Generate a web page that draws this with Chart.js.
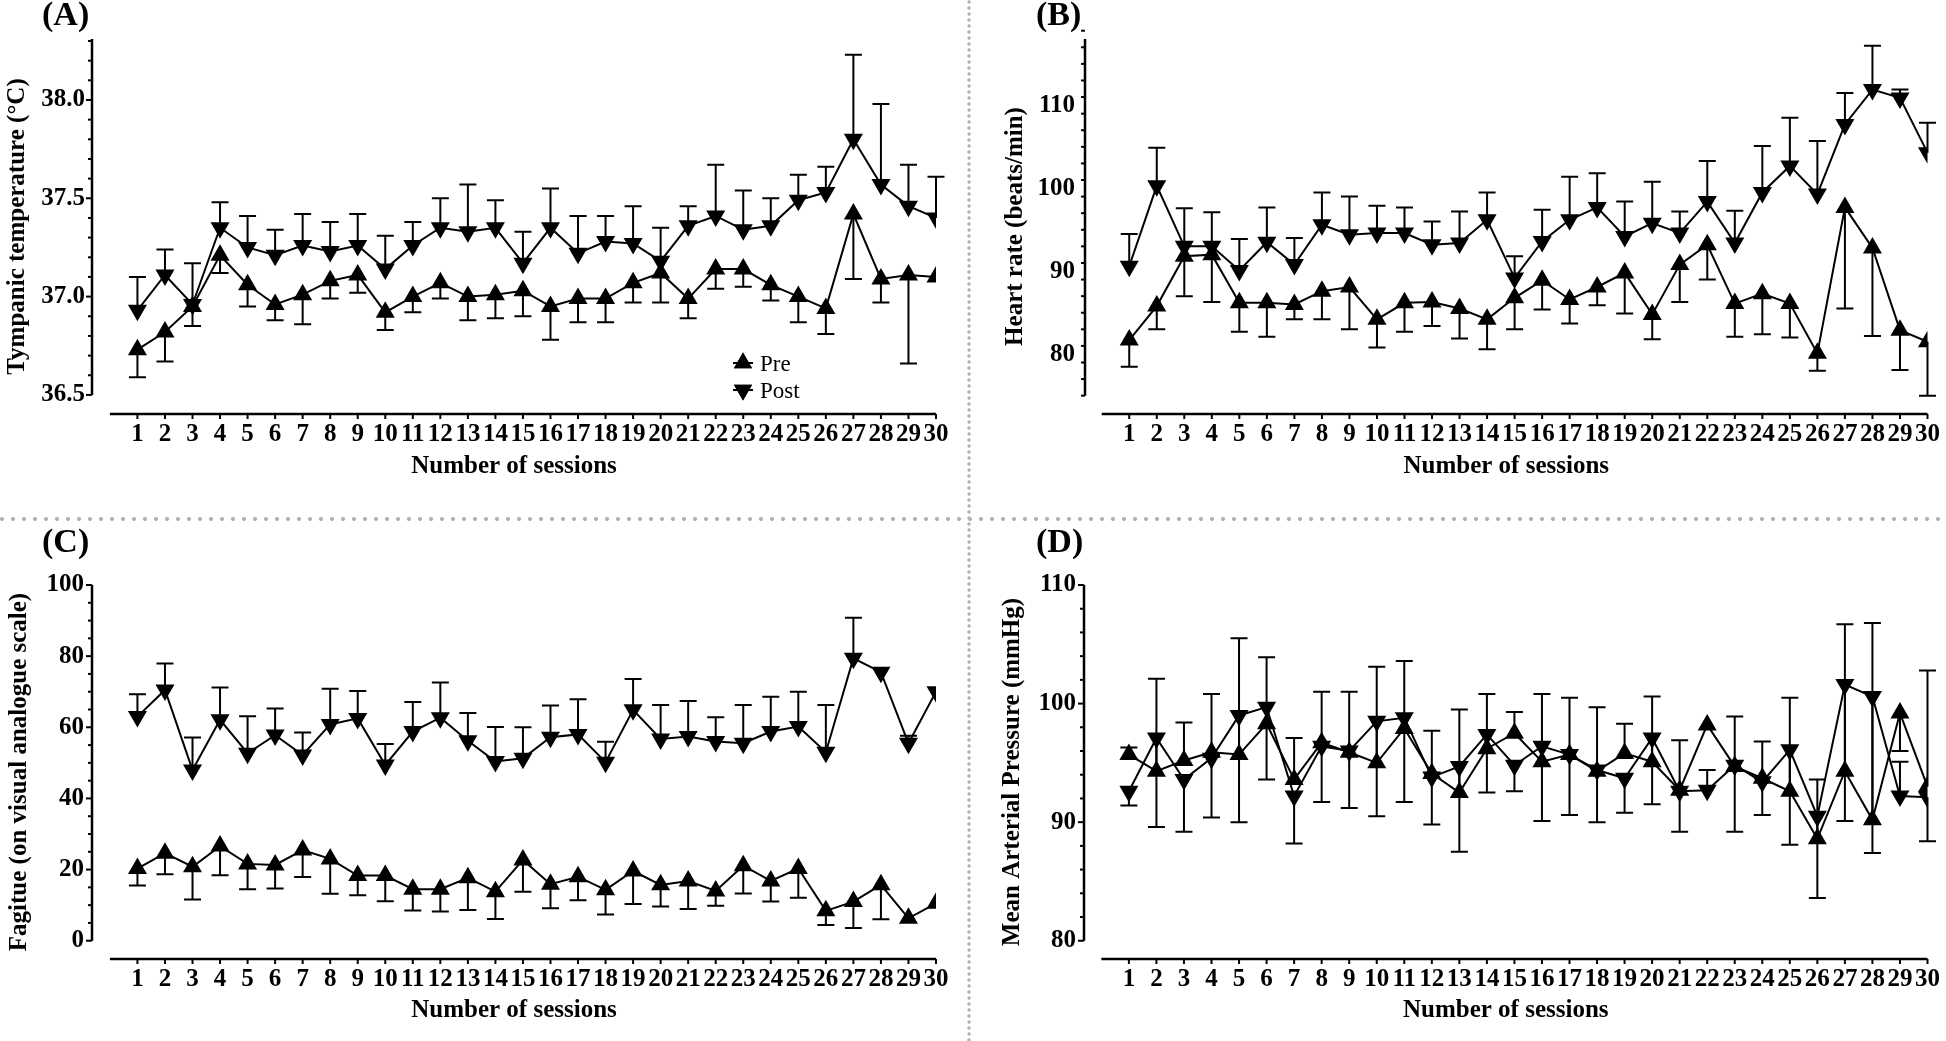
<!DOCTYPE html>
<html>
<head>
<meta charset="utf-8">
<script src="https://cdn.jsdelivr.net/npm/chart.js@4.4.1/dist/chart.umd.min.js"></script>
<style>
  body { margin: 0; background: #fff; }
  #page { position: relative; width: 1946px; height: 1041px; overflow: hidden; background: #fff; }
  canvas { position: absolute; }
  .tag { position: absolute; font: bold 34px 'Liberation Serif', 'Times New Roman', serif; line-height: 1; color: #000; }
  .hsep { position: absolute; left: 0; top: 517px; width: 1946px; height: 4px;
    background: radial-gradient(circle at 2px 2px, #b3b3b3 1.8px, transparent 2.3px) 0 0 / 11px 4px repeat-x; }
  .vsep { position: absolute; left: 967px; top: 0; width: 4px; height: 1041px;
    background: radial-gradient(circle at 2px 2px, #b3b3b3 1.4px, transparent 1.9px) 0 0 / 4px 6px repeat-y; }
</style>
</head>
<body>
<div id="page">
  <canvas id="cA" width="968" height="518" style="left:0;top:0"></canvas>
  <canvas id="cB" width="974" height="518" style="left:972px;top:0"></canvas>
  <canvas id="cC" width="968" height="519" style="left:0;top:522px"></canvas>
  <canvas id="cD" width="974" height="519" style="left:972px;top:522px"></canvas>
  <div class="hsep"></div>
  <div class="vsep"></div>
  <div class="tag" style="left:42px;top:-3px">(A)</div>
  <div class="tag" style="left:1036px;top:-3px">(B)</div>
  <div class="tag" style="left:42px;top:524px">(C)</div>
  <div class="tag" style="left:1036px;top:524px">(D)</div>
</div>
<script>
var sessions = [1, 2, 3, 4, 5, 6, 7, 8, 9, 10, 11, 12, 13, 14, 15,
  16, 17, 18, 19, 20, 21, 22, 23, 24, 25, 26, 27, 28, 29, 30];

// (A) tympanic temperature, mean and SD
var tempPre = [36.73, 36.82, 36.95, 37.21, 37.06, 36.96, 37.01, 37.08, 37.11, 36.92,
  37.00, 37.07, 37.00, 37.01, 37.03, 36.95, 36.99, 36.99, 37.07, 37.12,
  36.99, 37.14, 37.14, 37.06, 37.00, 36.94, 37.42, 37.09, 37.11, 37.10];
var tempPreSD = [0.14, 0.15, 0.10, 0.09, 0.11, 0.08, 0.15, 0.09, 0.09, 0.09,
  0.08, 0.08, 0.12, 0.12, 0.13, 0.17, 0.12, 0.12, 0.10, 0.15,
  0.10, 0.10, 0.09, 0.08, 0.13, 0.13, 0.33, 0.12, 0.45, 0.00];
var tempPost = [36.93, 37.11, 36.96, 37.35, 37.25, 37.21, 37.26, 37.23, 37.26, 37.14,
  37.26, 37.35, 37.33, 37.35, 37.17, 37.35, 37.22, 37.28, 37.27, 37.18,
  37.36, 37.41, 37.34, 37.36, 37.49, 37.53, 37.80, 37.57, 37.46, 37.40];
var tempPostSD = [0.17, 0.13, 0.21, 0.13, 0.16, 0.13, 0.16, 0.15, 0.16, 0.17,
  0.12, 0.15, 0.24, 0.14, 0.16, 0.20, 0.19, 0.13, 0.19, 0.17,
  0.10, 0.26, 0.20, 0.14, 0.13, 0.13, 0.43, 0.41, 0.21, 0.21];

// (B) heart rate
var hrPre = [81.7, 85.8, 91.8, 92.0, 86.2, 86.2, 86.0, 87.6, 88.1, 84.2,
  86.2, 86.3, 85.5, 84.2, 86.8, 88.9, 86.6, 88.1, 89.8, 84.8,
  90.8, 93.2, 86.1, 87.3, 86.1, 80.1, 97.7, 92.8, 82.9, 81.5];
var hrPreSD = [3.2, 2.8, 4.8, 5.7, 3.5, 4.1, 1.8, 3.4, 5.1, 3.4,
  3.5, 2.9, 3.6, 3.6, 3.8, 3.5, 2.9, 2.2, 4.9, 3.0,
  4.5, 4.2, 4.0, 4.9, 4.1, 2.1, 12.2, 10.6, 4.8, 6.5];
var hrPost = [90.6, 100.3, 93.0, 93.0, 90.1, 93.5, 90.8, 95.6, 94.4, 94.6,
  94.6, 93.2, 93.4, 96.2, 89.2, 93.6, 96.2, 97.7, 94.2, 95.8,
  94.6, 98.4, 93.4, 99.5, 102.7, 99.3, 107.7, 111.9, 110.9, 104.3];
var hrPostSD = [3.9, 4.6, 4.6, 4.1, 3.8, 4.2, 3.2, 3.9, 4.6, 3.3,
  3.1, 2.8, 3.8, 3.3, 2.6, 3.8, 5.2, 4.1, 4.2, 5.0,
  2.6, 4.9, 3.9, 5.6, 5.8, 6.4, 3.8, 5.3, 1.0, 3.6];

// (C) fatigue, visual analogue scale
var fatPre = [20.3, 24.6, 20.8, 26.6, 21.6, 21.3, 25.5, 23.0, 18.3, 18.3,
  14.5, 14.5, 17.7, 13.8, 22.7, 15.9, 18.0, 14.3, 19.6, 15.7,
  16.8, 14.0, 21.1, 16.8, 20.3, 8.4, 11.0, 15.7, 6.3, 10.5];
var fatPreSD = [4.8, 5.9, 9.2, 8.2, 7.1, 6.6, 7.6, 9.8, 5.5, 7.2,
  6.0, 6.3, 9.1, 7.7, 8.9, 6.8, 6.6, 6.9, 9.3, 6.1,
  7.9, 4.2, 7.8, 5.8, 8.2, 4.0, 7.4, 9.7, 0, 0];
var fatPost = [63.0, 70.5, 48.0, 62.1, 52.7, 57.8, 52.2, 60.8, 62.5, 49.4,
  58.8, 62.7, 56.2, 50.4, 51.3, 57.2, 58.0, 50.2, 64.9, 56.7,
  57.4, 56.0, 55.5, 58.8, 60.2, 53.0, 79.4, 75.5, 55.5, 70.0];
var fatPostSD = [6.3, 7.4, 9.1, 9.1, 10.4, 7.5, 6.3, 10.0, 7.7, 5.9,
  8.3, 9.9, 7.8, 9.7, 8.7, 8.9, 9.9, 5.7, 8.7, 9.6,
  10.0, 6.8, 10.8, 9.8, 9.8, 13.3, 11.4, 0, 2.1, 0];

// (D) mean arterial pressure; error values are signed (negative = bar drawn below)
var mapPre = [95.7, 94.3, 95.2, 95.9, 95.7, 98.3, 93.6, 96.7, 95.9, 95.0,
  97.9, 94.1, 92.5, 96.2, 97.5, 95.1, 95.7, 94.3, 95.8, 95.1,
  92.7, 98.2, 94.7, 93.7, 92.6, 88.6, 94.3, 90.2, 99.2, 93.0];
var mapPreErr = [0.6, 7.8, 3.2, 4.9, 9.8, 5.6, 3.5, 4.3, 5.1, 8.1,
  5.7, 3.6, 7.0, 4.6, 1.8, 5.7, 4.8, 5.4, 2.5, 5.5,
  4.2, 0, 4.2, 3.1, 7.9, 5.0, 12.4, 16.6, -3.2, 9.8];
var mapPost = [92.6, 97.1, 93.6, 95.4, 99.0, 99.7, 92.2, 96.4, 96.0, 98.5,
  98.8, 93.8, 94.7, 97.4, 94.8, 96.4, 95.7, 94.4, 93.7, 97.1,
  92.6, 92.7, 94.8, 93.4, 96.1, 90.5, 101.6, 100.6, 92.2, 92.1];
var mapPostErr = [-1.2, -7.5, -4.4, -5.0, -9.0, -6.1, -4.0, -4.7, -4.8, -8.0,
  -7.1, -4.0, -7.2, -4.9, -2.2, -6.3, -5.1, -4.4, -2.9, -5.6,
  -3.4, 1.7, -5.6, -2.8, -8.0, -6.9, -11.5, -13.2, 2.9, -3.7];

var tempTicks = [36.5, 37.0, 37.5, 38.0];
var hrTicks = [80, 90, 100, 110];
var fatTicks = [0, 20, 40, 60, 80, 100];
var mapTicks = [80, 90, 100, 110];

var FONT = "'Liberation Serif', 'Times New Roman', serif";
Chart.defaults.font.family = FONT;
Chart.defaults.color = '#000';

function neg(arr) {
  return arr.map(function (v) { return -v; });
}

// Prism-style offset axes, error bars and the small legend
function prismPlugin(p) {
  return {
    id: 'prism',
    beforeDatasetsDraw: function (chart) {
      var ctx = chart.ctx, xs = chart.scales.x, ys = chart.scales.y;
      ctx.save();
      ctx.strokeStyle = '#000';
      ctx.lineWidth = 2;
      chart.data.datasets.forEach(function (ds, d) {
        var errs = p.errors[d];
        ds.data.forEach(function (pt, i) {
          var e = errs[i];
          if (!e) return;
          var x = xs.getPixelForValue(pt.x);
          var y0 = ys.getPixelForValue(pt.y);
          var y1 = ys.getPixelForValue(pt.y + e);
          ctx.beginPath();
          ctx.moveTo(x, y0);
          ctx.lineTo(x, y1);
          ctx.moveTo(x - 8.5, y1);
          ctx.lineTo(x + 8.5, y1);
          ctx.stroke();
        });
      });
      ctx.restore();
    },
    afterDraw: function (chart) {
      var ctx = chart.ctx, xs = chart.scales.x, ys = chart.scales.y;
      var area = chart.chartArea;
      ctx.save();
      ctx.strokeStyle = '#000';
      ctx.lineWidth = 2.5;
      // y axis
      var ax = area.left;
      ctx.beginPath();
      ctx.moveTo(ax, ys.getPixelForValue(p.yFrom));
      ctx.lineTo(ax, ys.getPixelForValue(p.yTo));
      ctx.stroke();
      ctx.lineWidth = 2;
      var n = Math.round((p.yTo - p.yFrom) / p.minor + 1e-6);
      for (var k = 0; k <= n; k++) {
        var v = p.yFrom + k * p.minor;
        var major = p.ticks.some(function (t) { return Math.abs(t - v) < p.minor / 10; });
        var y = ys.getPixelForValue(v);
        ctx.beginPath();
        ctx.moveTo(ax, y);
        ctx.lineTo(ax - (major ? 6 : 4), y);
        ctx.stroke();
      }
      // x axis
      var by = area.bottom;
      ctx.lineWidth = 2.5;
      ctx.beginPath();
      ctx.moveTo(xs.getPixelForValue(0), by);
      ctx.lineTo(xs.getPixelForValue(30), by);
      ctx.stroke();
      ctx.lineWidth = 2;
      sessions.forEach(function (s) {
        var x = xs.getPixelForValue(s);
        ctx.beginPath();
        ctx.moveTo(x, by);
        ctx.lineTo(x, by + 5);
        ctx.stroke();
      });
      // legend
      if (p.legend) {
        ctx.font = '23px ' + FONT;
        ctx.fillStyle = '#000';
        ctx.textBaseline = 'alphabetic';
        chart.data.datasets.forEach(function (ds, d) {
          var lx = p.legend.x, ly = p.legend.y + d * 27;
          ctx.lineWidth = 2;
          ctx.beginPath();
          ctx.moveTo(lx - 10, ly);
          ctx.lineTo(lx + 10, ly);
          ctx.stroke();
          Chart.helpers.drawPoint(ctx, {
            pointStyle: 'triangle', rotation: ds.pointRotation, radius: 10.5, borderWidth: 0
          }, lx, ly);
          ctx.fill();
          ctx.fillText(ds.label, lx + 17, ly + 8);
        });
      }
      ctx.restore();
    }
  };
}

function makePanel(id, p) {
  function series(label, values, rot) {
    return {
      label: label,
      data: sessions.map(function (s, i) { return { x: s, y: values[i] }; }),
      borderColor: '#000',
      backgroundColor: '#000',
      borderWidth: 2,
      tension: 0,
      pointStyle: 'triangle',
      pointRotation: rot,
      pointRadius: 11,
      pointBorderWidth: 0,
      pointBackgroundColor: '#000'
    };
  }
  return new Chart(document.getElementById(id), {
    type: 'line',
    data: { datasets: [series('Pre', p.pre, 0), series('Post', p.post, 180)] },
    options: {
      responsive: false,
      animation: false,
      events: [],
      layout: { padding: { left: 0, top: p.top, right: p.right, bottom: 0 } },
      plugins: { legend: { display: false }, tooltip: { enabled: false } },
      scales: {
        x: {
          type: 'linear',
          bounds: 'data',
          min: p.xMin,
          max: 30,
          afterBuildTicks: function (s) { s.ticks = sessions.map(function (v) { return { value: v }; }); },
          afterFit: function (s) { s.height = p.xH; },
          grid: { display: false, drawTicks: false },
          border: { display: false },
          ticks: { autoSkip: false, maxRotation: 0, padding: 6, color: '#000',
            font: { size: 25, weight: 'bold' },
            callback: function (v) { return String(v); } },
          title: { display: true, text: 'Number of sessions', color: '#000',
            font: { size: 25, weight: 'bold' }, padding: { top: 0, bottom: p.xTitlePad } }
        },
        y: {
          type: 'linear',
          bounds: 'data',
          min: p.yMin,
          max: p.yMax,
          afterBuildTicks: function (s) { s.ticks = p.ticks.map(function (v) { return { value: v }; }); },
          afterFit: function (s) { s.width = p.yW; },
          grid: { display: false, drawTicks: false },
          border: { display: false },
          ticks: { padding: p.yTickPad, color: '#000', font: { size: 25, weight: 'bold' },
            callback: function (v) { return v.toFixed(p.dec); } },
          title: { display: true, text: p.yTitle, color: '#000',
            font: { size: 25, weight: 'bold' }, padding: { top: p.yTitlePad, bottom: 0 } }
        }
      }
    },
    plugins: [prismPlugin(p)]
  });
}

makePanel('cA', {
  pre: tempPre, post: tempPost, errors: [neg(tempPreSD), tempPostSD],
  yTitle: 'Tympanic temperature (\u00B0C)', ticks: tempTicks, dec: 1,
  yMin: 36.403, yMax: 38.31, yFrom: 36.5, yTo: 38.31, minor: 0.1,
  xMin: -0.65, top: 39, right: 32, yW: 92, xH: 104,
  yTickPad: 7, yTitlePad: 3, xTitlePad: 36,
  legend: { x: 743, y: 363 }
});

makePanel('cB', {
  pre: hrPre, post: hrPost, errors: [neg(hrPreSD), hrPostSD],
  yTitle: 'Heart rate (beats/min)', ticks: hrTicks, dec: 0,
  yMin: 72.79, yMax: 118, yFrom: 75, yTo: 118, minor: 2,
  xMin: -0.607, top: 39, right: 18, yW: 113, xH: 104,
  yTickPad: 10, yTitlePad: 29, xTitlePad: 36
});

makePanel('cC', {
  pre: fatPre, post: fatPost, errors: [neg(fatPreSD), fatPostSD],
  yTitle: 'Fagitue (on visual analogue scale)', ticks: fatTicks, dec: 0,
  yMin: -5.14, yMax: 100, yFrom: 0, yTo: 100, minor: 5,
  xMin: -0.65, top: 63, right: 32, yW: 92, xH: 82,
  yTickPad: 8, yTitlePad: 5, xTitlePad: 15
});

makePanel('cD', {
  pre: mapPre, post: mapPost, errors: [mapPreErr, mapPostErr],
  yTitle: 'Mean Arterial Pressure (mmHg)', ticks: mapTicks, dec: 0,
  yMin: 78.46, yMax: 110, yFrom: 80, yTo: 110, minor: 2,
  xMin: -0.63, top: 63, right: 18, yW: 112, xH: 82,
  yTickPad: 8, yTitlePad: 26, xTitlePad: 15
});
</script>
</body>
</html>
